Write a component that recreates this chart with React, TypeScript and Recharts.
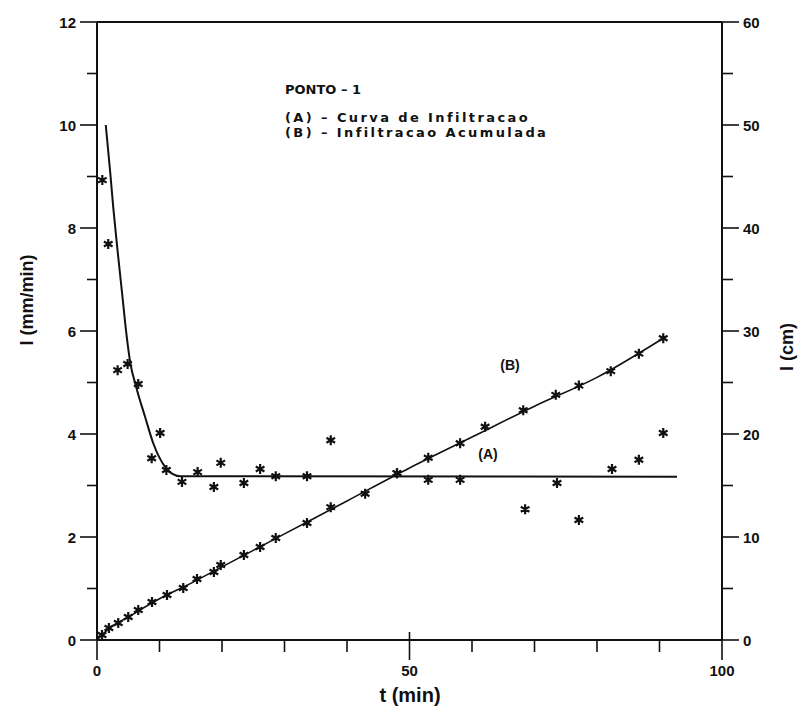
import { ComposedChart, Line, Scatter, XAxis, YAxis, ReferenceLine } from "recharts";

// infiltration rate (mm/min), measured
const rateT = [0.85, 1.8, 3.3, 4.9, 6.6, 8.75, 10.1, 11.1, 13.6, 16.1, 18.7, 19.8, 23.5, 26.1, 28.6, 33.6, 37.4, 48, 53, 58.1, 68.5, 73.6, 77.1, 82.4, 86.7, 90.6];
const rateV = [8.93, 7.69, 5.24, 5.36, 4.97, 3.53, 4.02, 3.3, 3.07, 3.26, 2.97, 3.44, 3.05, 3.32, 3.18, 3.18, 3.88, 3.24, 3.11, 3.11, 2.54, 3.05, 2.33, 3.32, 3.5, 4.02];

// fitted infiltration curve (A)
const fitAT = [1.4, 2.1, 2.6, 3.3, 4.0, 4.7, 5.3, 6.3, 7.7, 9, 10.9, 12, 13.3, 92.8];
const fitAV = [10, 9.1, 8.4, 7.55, 6.75, 5.95, 5.4, 4.9, 4.33, 3.82, 3.36, 3.23, 3.18, 3.17];

// accumulated infiltration (cm), measured
const cumT = [0.8, 1.9, 3.4, 5.0, 6.6, 8.8, 11.2, 13.8, 16, 18.7, 19.8, 23.5, 26.1, 28.6, 33.6, 37.4, 42.9, 48, 53, 58.1, 62.1, 68.2, 73.4, 77.1, 82.2, 86.7, 90.6];
const cumV = [0.49, 1.17, 1.65, 2.23, 2.91, 3.69, 4.37, 5.05, 5.92, 6.6, 7.28, 8.25, 9.03, 9.9, 11.36, 12.9, 14.2, 16.2, 17.7, 19.1, 20.7, 22.3, 23.8, 24.7, 26.1, 27.8, 29.3];

// fitted accumulated curve (B)
const fitBT = [0, 2, 5, 10, 15, 20, 25, 30, 40, 50, 60, 70, 80, 90.6];
const fitBV = [0, 1.15, 2.23, 4.0, 5.5, 7.1, 8.7, 10.3, 13.5, 16.7, 19.7, 22.7, 25.5, 29.3];

const xTicks = [0, 10, 20, 30, 40, 50, 60, 70, 80, 90, 100];
const leftTicks = [0, 1, 2, 3, 4, 5, 6, 7, 8, 9, 10, 11, 12];
const rightTicks = [0, 5, 10, 15, 20, 25, 30, 35, 40, 45, 50, 55, 60];

const zip = (ts: number[], vs: number[]) => ts.map((t, i) => ({ t, v: vs[i] }));
const rateData = zip(rateT, rateV);
const fitAData = zip(fitAT, fitAV);
const cumData = zip(cumT, cumV);
const fitBData = zip(fitBT, fitBV);

const font = "'Liberation Sans', Arial, sans-serif";
const wide = "'DejaVu Sans', sans-serif";
const ink = "#111";

const Star = (props: any) => {
  const { cx, cy } = props;
  const r = 5;
  const d = [0, 60, 120]
    .map((a) => {
      const rad = (a * Math.PI) / 180;
      const dx = r * Math.sin(rad);
      const dy = r * Math.cos(rad);
      return `M${cx - dx},${cy - dy}L${cx + dx},${cy + dy}`;
    })
    .join("");
  return <path d={d} stroke={ink} strokeWidth={2.2} fill="none" />;
};

const LeftTick = ({ x, y, payload }: any) => {
  const major = payload.value % 2 === 0;
  return (
    <g>
      <line x1={x - (major ? 17 : 10)} x2={x} y1={y} y2={y} stroke={ink} strokeWidth={1.6} />
      {major && (
        <text x={x - 21} y={y + 6} textAnchor="end" fontFamily={font} fontWeight="bold" fontSize={15} fill={ink}>
          {payload.value}
        </text>
      )}
    </g>
  );
};

const RightTick = ({ x, y, payload }: any) => {
  const major = payload.value % 10 === 0;
  return (
    <g>
      <line x1={x} x2={x + (major ? 17 : 11)} y1={y} y2={y} stroke={ink} strokeWidth={1.6} />
      {major && (
        <text x={x + 21} y={y + 6} textAnchor="start" fontFamily={font} fontWeight="bold" fontSize={15} fill={ink}>
          {payload.value}
        </text>
      )}
    </g>
  );
};

const BottomTick = ({ x, y, payload }: any) => {
  const major = payload.value % 50 === 0;
  return (
    <g>
      <line x1={x} x2={x} y1={major ? y - 8 : y} y2={y + (major ? 20 : 12)} stroke={ink} strokeWidth={1.6} />
      {major && (
        <text x={x} y={y + 36} textAnchor="middle" fontFamily={font} fontWeight="bold" fontSize={15} fill={ink}>
          {payload.value}
        </text>
      )}
    </g>
  );
};

const txt = { fontFamily: font, fontWeight: "bold" as const, fill: ink };
const wideTxt = { fontFamily: wide, fontWeight: "bold" as const, fill: ink };

export default function App() {
  return (
    <div style={{ position: "absolute", left: 0, top: 0, background: "#fff" }}>
      <ComposedChart width={808} height={714} margin={{ top: 22, right: 0, bottom: 0, left: 0 }}>
        <XAxis
          xAxisId="x"
          dataKey="t"
          type="number"
          domain={[0, 100]}
          ticks={xTicks}
          tickSize={0}
          tickMargin={0}
          tickLine={false}
          tick={<BottomTick />}
          height={74}
          axisLine={{ stroke: ink, strokeWidth: 2 }}
          allowDataOverflow
        />
        <YAxis
          yAxisId="left"
          type="number"
          domain={[0, 12]}
          ticks={leftTicks}
          tickSize={0}
          tickMargin={0}
          tickLine={false}
          tick={<LeftTick />}
          width={97}
          axisLine={{ stroke: ink, strokeWidth: 2 }}
          interval={0}
        />
        <YAxis
          yAxisId="right"
          orientation="right"
          type="number"
          domain={[0, 60]}
          ticks={rightTicks}
          tickSize={0}
          tickMargin={0}
          tickLine={false}
          tick={<RightTick />}
          width={86}
          axisLine={{ stroke: ink, strokeWidth: 2 }}
          interval={0}
        />
        <ReferenceLine xAxisId="x" yAxisId="left" y={12} stroke={ink} strokeWidth={2} />
        <Line
          xAxisId="x"
          yAxisId="left"
          data={fitAData}
          dataKey="v"
          type="monotone"
          stroke={ink}
          strokeWidth={2}
          dot={false}
          isAnimationActive={false}
        />
        <Line
          xAxisId="x"
          yAxisId="right"
          data={fitBData}
          dataKey="v"
          type="monotone"
          stroke={ink}
          strokeWidth={1.6}
          dot={false}
          isAnimationActive={false}
        />
        <Scatter xAxisId="x" yAxisId="left" data={rateData} dataKey="v" shape={<Star />} isAnimationActive={false} />
        <Scatter xAxisId="x" yAxisId="right" data={cumData} dataKey="v" shape={<Star />} isAnimationActive={false} />

        <text x={285} y={94} fontSize={13} {...wideTxt}>PONTO  –  1</text>
        <text x={285} y={122} fontSize={13} letterSpacing={2.4} {...wideTxt}>(A)  –  Curva de Infiltracao</text>
        <text x={285} y={137} fontSize={13} letterSpacing={2.4} {...wideTxt}>(B)  –  Infiltracao Acumulada</text>
        <text x={510} y={370} fontSize={14} textAnchor="middle" {...txt}>(B)</text>
        <text x={488} y={459} fontSize={14} textAnchor="middle" {...txt}>(A)</text>

        <text x={410} y={702} fontSize={20} textAnchor="middle" {...txt}>t (min)</text>
        <text x={33} y={300} fontSize={18} textAnchor="middle" transform="rotate(-90 33 300)" {...txt}>I (mm/min)</text>
        <text x={793} y={347} fontSize={18} textAnchor="middle" transform="rotate(-90 793 347)" {...txt}>I (cm)</text>
      </ComposedChart>
    </div>
  );
}
